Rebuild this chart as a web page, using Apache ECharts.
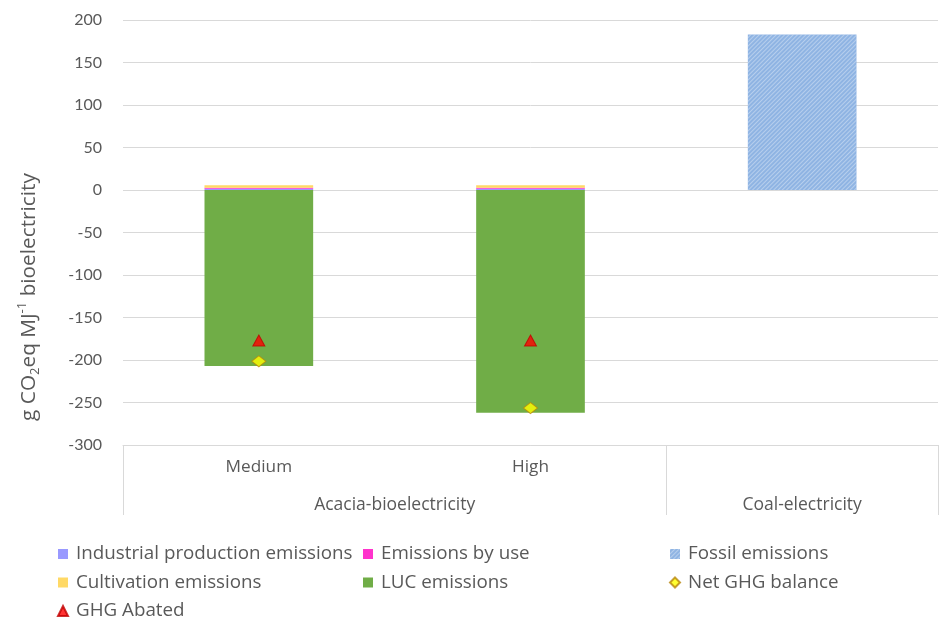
<!DOCTYPE html>
<html>
<head>
<meta charset="utf-8">
<script src="https://cdn.jsdelivr.net/npm/echarts@6/dist/echarts.min.js"></script>
<style>
  html, body { margin: 0; padding: 0; background: #ffffff; }
  #chart { width: 941px; height: 622px; }
</style>
</head>
<body>
<div id="chart"></div>
<script>
// Scenario categories and their groups
const categories = ['Medium', 'High', ''];
const groupLabels = { 1: 'Acacia-bioelectricity', 2.5: 'Coal-electricity' };

// Emission components, g CO2eq per MJ of electricity
const industrialProduction = [1.5, 1.5, null];
const emissionsByUse = [1.2, 1.2, null];
const cultivation = [3.0, 3.0, null];
const lucEmissions = [-207, -262, null];
const fossilEmissions = [null, null, 183];
const netBalance = [-201.5, -256.5, null];
const ghgAbated = [-177, -177, null];

const yTicks = { min: -300, max: 200, interval: 50 };

const NUM_FONT = 'Lato';
const FONT = 'Open Sans';
const TEXT = '#595959';
const GRID = '#d9d9d9';

const chart = echarts.init(document.getElementById('chart'));

const barBase = { type: 'bar', stack: 'total', barWidth: '40%' };

const legendCommon = {
  orient: 'vertical', itemWidth: 10, itemHeight: 10, itemGap: 8.5, height: 100,
  textStyle: { color: TEXT, fontFamily: FONT, fontSize: 18.8, lineHeight: 20, padding: [0, 0, 0, 3] },
  icon: 'rect', selectedMode: false
};

chart.setOption({
  animation: false,
  textStyle: { fontFamily: FONT },
  grid: { left: 123, right: 0, top: 20, bottom: 177 },
  legend: [
    Object.assign({}, legendCommon, { left: 52, top: 539,
      data: ['Industrial production emissions', 'Cultivation emissions',
             { name: 'GHG Abated', icon: 'triangle' }] }),
    Object.assign({}, legendCommon, { left: 358, top: 539,
      data: ['Emissions by use', 'LUC emissions'] }),
    Object.assign({}, legendCommon, { left: 664, top: 539,
      data: ['Fossil emissions', { name: 'Net GHG balance', icon: 'diamond' }] })
  ],
  xAxis: [
    {
      type: 'category', data: categories, position: 'bottom',
      axisLine: { onZero: false, lineStyle: { color: GRID } },
      axisTick: { show: true, length: 70, lineStyle: { color: GRID },
        interval: (i) => i === 0 || i === 2 },
      axisLabel: { color: TEXT, fontSize: 17.2, margin: 14, fontFamily: FONT }
    },
    {
      type: 'value', min: 0, max: 3, interval: 0.5, position: 'bottom', offset: 37,
      axisLine: { show: false }, axisTick: { show: false }, splitLine: { show: false },
      axisLabel: { color: TEXT, fontSize: 17.5, margin: 14, fontFamily: FONT,
        formatter: (v) => groupLabels[v] || '' }
    }
  ],
  yAxis: {
    type: 'value', min: yTicks.min, max: yTicks.max, interval: yTicks.interval,
    axisLine: { show: false }, axisTick: { show: false },
    splitLine: { lineStyle: { color: GRID } },
    axisLabel: { color: TEXT, fontSize: 16, margin: 21, fontFamily: NUM_FONT }
  },
  graphic: [{
    type: 'text', x: 29, y: 297, rotation: Math.PI / 2,
    style: {
      text: '{n|g CO}{sub|2}{n|eq MJ}{sup|-1}{n| bioelectricity}',
      align: 'center', verticalAlign: 'middle',
      rich: {
        n: { fontFamily: FONT, fontSize: 20.8, fill: TEXT, lineHeight: 26, verticalAlign: 'middle' },
        sub: { fontFamily: FONT, fontSize: 13, fill: TEXT, lineHeight: 26, verticalAlign: 'bottom', padding: [10, 0, 0, 0] },
        sup: { fontFamily: FONT, fontSize: 13, fill: TEXT, lineHeight: 26, verticalAlign: 'top', padding: [0, 0, 10, 0] }
      }
    }
  }],
  series: [
    Object.assign({}, barBase, { name: 'Industrial production emissions', data: industrialProduction,
      itemStyle: { color: '#9999ff' } }),
    Object.assign({}, barBase, { name: 'Emissions by use', data: emissionsByUse,
      itemStyle: { color: '#ff33cc' } }),
    Object.assign({}, barBase, { name: 'Cultivation emissions', data: cultivation,
      itemStyle: { color: '#ffd966' } }),
    Object.assign({}, barBase, { name: 'LUC emissions', data: lucEmissions,
      itemStyle: { color: '#70ad47' } }),
    Object.assign({}, barBase, { name: 'Fossil emissions', data: fossilEmissions,
      itemStyle: { color: '#8fb4e3',
        decal: { symbol: 'rect', symbolSize: 1, dashArrayX: [1, 0], dashArrayY: [1, 2],
          rotation: -Math.PI / 4, color: 'rgba(255,255,255,0.35)' } } }),
    { name: 'Net GHG balance', type: 'scatter', data: netBalance, symbol: 'diamond',
      symbolSize: [14, 11], z: 5,
      itemStyle: { color: '#ffff00', borderColor: '#b8860b', borderWidth: 1 } },
    { name: 'GHG Abated', type: 'scatter', data: ghgAbated, symbol: 'triangle',
      symbolSize: [12, 11], z: 5,
      itemStyle: { color: '#ff0000', borderColor: '#c00000', borderWidth: 1 } }
  ]
});
</script>
</body>
</html>
